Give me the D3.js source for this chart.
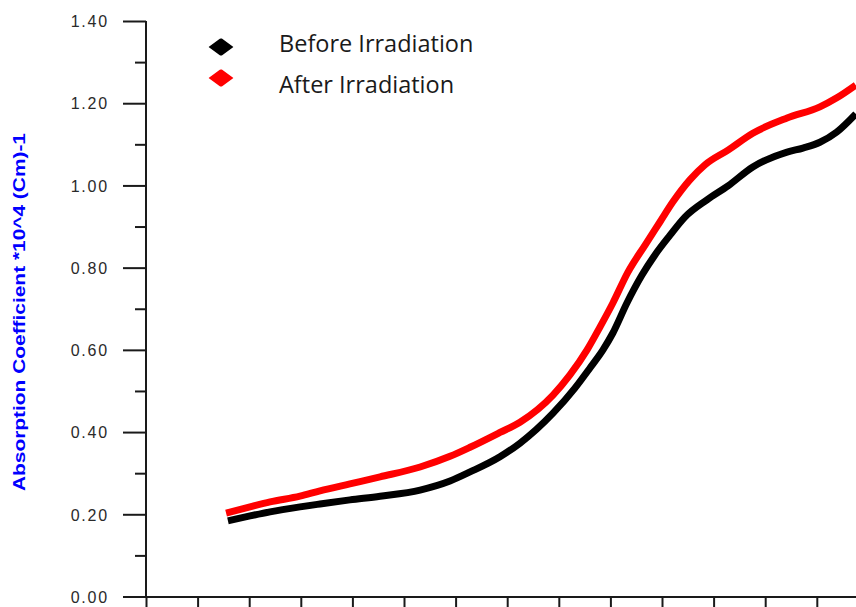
<!DOCTYPE html>
<html><head><meta charset="utf-8">
<script src="https://cdn.jsdelivr.net/npm/d3@7"></script>
<style>
html,body{margin:0;padding:0;background:#fff;overflow:hidden}
svg{display:block}
</style></head>
<body>
<svg id="chart" width="856" height="607"></svg>
<script>
// Photon energy (arbitrary units, x labels not visible in reference)
const energyBefore = [1.397,1.504,1.601,1.746,1.843,1.988,2.134,2.328,2.473,2.570,2.715,2.812,2.972,3.078,3.151,3.214,3.262,3.330,3.403,3.466,3.539,3.611,3.718,3.820,3.940,4.106,4.183,4.265,4.347,4.439];
const alphaBefore  = [0.184,0.196,0.206,0.218,0.225,0.235,0.244,0.259,0.281,0.303,0.340,0.373,0.446,0.507,0.556,0.600,0.641,0.714,0.782,0.831,0.879,0.923,0.965,0.999,1.045,1.081,1.091,1.105,1.130,1.174];
const energyAfter  = [1.388,1.504,1.601,1.746,1.843,1.988,2.134,2.328,2.473,2.570,2.715,2.812,2.972,3.054,3.137,3.200,3.262,3.335,3.418,3.490,3.553,3.636,3.708,3.820,3.940,4.106,4.265,4.347,4.439];
const alphaAfter   = [0.203,0.218,0.230,0.244,0.257,0.274,0.291,0.315,0.341,0.363,0.399,0.424,0.490,0.539,0.600,0.656,0.714,0.789,0.855,0.911,0.960,1.014,1.050,1.086,1.127,1.164,1.191,1.213,1.244];
const yMajorTicks = [0,0.2,0.4,0.6,0.8,1.0,1.2,1.4];
const yMinorTicks = [0.1,0.3,0.5,0.7,0.9,1.1,1.3];
const xTicks = [1.0,1.25,1.5,1.75,2.0,2.25,2.5,2.75,3.0,3.25,3.5,3.75,4.0,4.25,4.5];
const seriesNames = ["Before Irradiation","After Irradiation"];
const seriesColors = ["#000000","#ff0000"];
const yTitle = "Absorption Coefficient *10^4 (Cm)-1";

const svg = d3.select("#chart");
const x = d3.scaleLinear().domain([1.0,4.5]).range([146,868.4]);
const y = d3.scaleLinear().domain([0,1.4]).range([596.5,21]);

// curves
const series = [
  energyBefore.map((e,i)=>({x:e,y:alphaBefore[i]})),
  energyAfter.map((e,i)=>({x:e,y:alphaAfter[i]}))
];
const line = d3.line().x(d=>x(d.x)).y(d=>y(d.y)).curve(d3.curveMonotoneX);
series.forEach((s,i)=>{
  svg.append("path").datum(s)
    .attr("fill","none").attr("stroke",seriesColors[i])
    .attr("stroke-width",7).attr("stroke-linejoin","round")
    .attr("d",line);
});

// y axis
const yAxisMajor = d3.axisLeft(y).tickValues(yMajorTicks).tickSize(23).tickPadding(14).tickFormat(d3.format(".2f"));
const gy = svg.append("g").attr("transform","translate(146,0)").call(yAxisMajor);
gy.select(".domain").attr("stroke","#1a1a1a").attr("stroke-width",2).attr("d","M0,21V597");
gy.selectAll(".tick line").attr("stroke","#1a1a1a").attr("stroke-width",2);
gy.selectAll(".tick text").attr("fill","#2a2a2a")
  .style("font-family","'Liberation Sans',Arial,sans-serif").style("font-size","16px")
  .style("letter-spacing","1.8px").attr("dy","0.36em");
const yAxisMinor = d3.axisLeft(y).tickValues(yMinorTicks).tickSize(11).tickFormat("");
const gym = svg.append("g").attr("transform","translate(146,0)").call(yAxisMinor);
gym.select(".domain").remove();
gym.selectAll(".tick line").attr("stroke","#1a1a1a").attr("stroke-width",2);

// x axis
const xAxis = d3.axisBottom(x).tickValues(xTicks).tickSize(12).tickFormat("");
const gx = svg.append("g").attr("transform","translate(0,597)").call(xAxis);
gx.select(".domain").attr("stroke","#1a1a1a").attr("stroke-width",2).attr("d","M145,0H870");
gx.selectAll(".tick line").attr("stroke","#1a1a1a").attr("stroke-width",2);

// y title
svg.append("text")
  .attr("transform","translate(25,312) rotate(-90)")
  .attr("text-anchor","middle")
  .attr("fill","#0000ff")
  .style("font-family","'Liberation Sans',Arial,sans-serif")
  .style("font-size","16px").style("font-weight","bold")
  .attr("textLength",358).attr("lengthAdjust","spacingAndGlyphs")
  .text(yTitle);

// legend
const legendY = [47,78];
const diamond = d3.symbol().type(d3.symbolDiamond).size(120);
seriesNames.forEach((n,i)=>{
  svg.append("path").attr("d",diamond)
    .attr("transform",`translate(221,${legendY[i]}) scale(1.85,0.78)`)
    .attr("fill",seriesColors[i]).attr("stroke",seriesColors[i]).attr("stroke-width",1.5).attr("stroke-linejoin","round");
  svg.append("text").attr("x",279).attr("y",legendY[i]+5+ (i===1?10:0))
    .attr("fill","#1a1a1a")
    .style("font-family","'Open Sans',sans-serif").style("font-size","23.5px")
    .text(n);
});
</script>
</body></html>
